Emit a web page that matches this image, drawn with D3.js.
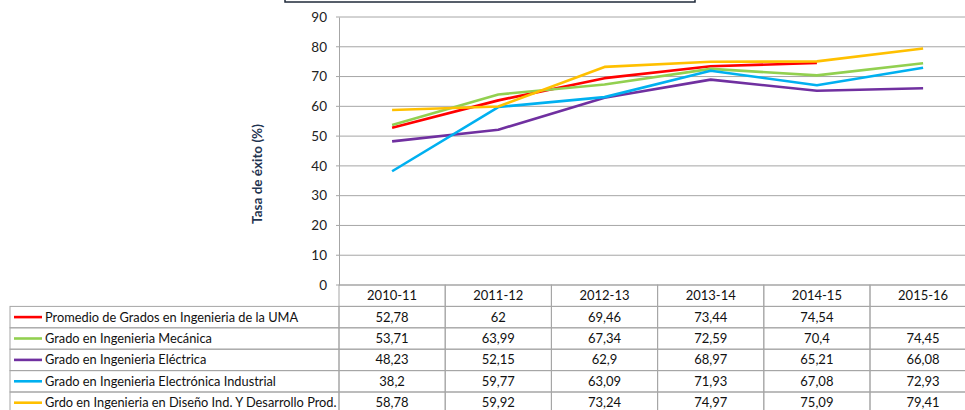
<!DOCTYPE html>
<html>
<head>
<meta charset="utf-8">
<script src="https://cdn.jsdelivr.net/npm/d3@7"></script>
<style>
  body { margin: 0; background: #fff; }
  svg { display: block; font-family: Lato, "Open Sans", sans-serif; }
</style>
</head>
<body>
<div id="chart"></div>
<script>
// data
const categories = ["2010-11", "2011-12", "2012-13", "2013-14", "2014-15", "2015-16"];
const seriesNames = [
    "Promedio de Grados en Ingenieria de la UMA",
    "Grado en Ingenieria Mecánica",
    "Grado en Ingenieria Eléctrica",
    "Grado en Ingenieria Electrónica Industrial",
    "Grdo en Ingenieria en Diseño Ind. Y Desarrollo Prod."
];
const promedio = [52.78, 62, 69.46, 73.44, 74.54, null];
const mecanica = [53.71, 63.99, 67.34, 72.59, 70.4, 74.45];
const electrica = [48.23, 52.15, 62.9, 68.97, 65.21, 66.08];
const electronica = [38.2, 59.77, 63.09, 71.93, 67.08, 72.93];
const diseno = [58.78, 59.92, 73.24, 74.97, 75.09, 79.41];
const seriesColors = ["#ff0000", "#92d050", "#7030a0", "#00b0f0", "#ffc000"];
const yTicks = [0, 10, 20, 30, 40, 50, 60, 70, 80, 90];

const series = [promedio, mecanica, electrica, electronica, diseno].map((vals, i) => ({
    name: seriesNames[i],
    color: seriesColors[i],
    values: vals
}));

const width = 965, height = 410;
const plotLeft = 339, plotTop = 17, plotBottom = 285;
const colW = 106.2, rowH = 21.4;
const gridColor = "#a6a6a6";

const svg = d3.select("#chart").append("svg")
    .attr("width", width)
    .attr("height", height);

const x = d3.scaleBand()
    .domain(categories)
    .range([plotLeft, plotLeft + colW * categories.length]);

const y = d3.scaleLinear()
    .domain([0, 90])
    .range([plotBottom, plotTop]);

// title box (cut off at the top)
svg.append("rect")
    .attr("x", 285).attr("y", -12)
    .attr("width", 410).attr("height", 14)
    .attr("fill", "#fff")
    .attr("stroke", "#1f2a3a")
    .attr("stroke-width", 1.5);

// gridlines
svg.append("g")
    .selectAll("line")
    .data(yTicks)
    .join("line")
    .attr("x1", plotLeft - 3)
    .attr("x2", width)
    .attr("y1", d => y(d))
    .attr("y2", d => y(d))
    .attr("stroke", gridColor)
    .attr("stroke-width", 1);

// y axis
const yAxis = svg.append("g")
    .attr("transform", `translate(${plotLeft},0)`)
    .call(d3.axisLeft(y).tickValues(yTicks).tickSize(0).tickPadding(12));
yAxis.select(".domain").attr("stroke", gridColor);
yAxis.selectAll("text")
    .attr("font-family", "Lato, sans-serif")
    .attr("font-size", 13.5)
    .attr("fill", "#222");

svg.append("text")
    .attr("transform", "translate(262,174) rotate(-90)")
    .attr("text-anchor", "middle")
    .attr("font-weight", "bold")
    .attr("font-size", 13.5)
    .attr("fill", "#1f3450")
    .text("Tasa de éxito (%)");

// lines
const line = d3.line()
    .defined(d => d.v != null)
    .x(d => x(d.c) + x.bandwidth() / 2)
    .y(d => y(d.v));

svg.append("g")
    .selectAll("path")
    .data(series)
    .join("path")
    .attr("d", s => line(s.values.map((v, i) => ({ c: categories[i], v: v }))))
    .attr("fill", "none")
    .attr("stroke", s => s.color)
    .attr("stroke-width", 2.6)
    .attr("stroke-linejoin", "round");

// data table
const rows = d3.scaleBand()
    .domain(["header"].concat(seriesNames))
    .range([plotBottom, plotBottom + rowH * 6]);

const table = svg.append("g")
    .attr("fill", "none")
    .attr("stroke", gridColor)
    .attr("stroke-width", 1);

// header row cells
table.selectAll(".hcell")
    .data(categories)
    .join("rect")
    .attr("x", d => x(d))
    .attr("y", rows("header"))
    .attr("width", x.bandwidth())
    .attr("height", rows.bandwidth());

// body cells
series.forEach(s => {
    table.append("rect")
        .attr("x", 10)
        .attr("y", rows(s.name))
        .attr("width", plotLeft - 10)
        .attr("height", rows.bandwidth());
    categories.forEach(c => {
        table.append("rect")
            .attr("x", x(c))
            .attr("y", rows(s.name))
            .attr("width", x.bandwidth())
            .attr("height", rows.bandwidth());
    });
});

const textG = svg.append("g")
    .attr("font-size", 13)
    .attr("fill", "#111");

textG.selectAll(".hlabel")
    .data(categories)
    .join("text")
    .attr("x", d => x(d) + x.bandwidth() / 2)
    .attr("y", rows("header") + rows.bandwidth() / 2)
    .attr("dy", "0.35em")
    .attr("text-anchor", "middle")
    .text(d => d);

const fmt = v => v == null ? "" : String(v).replace(".", ",");

series.forEach(s => {
    const cy = rows(s.name) + rows.bandwidth() / 2;
    svg.append("line")
        .attr("x1", 14).attr("x2", 42)
        .attr("y1", cy).attr("y2", cy)
        .attr("stroke", s.color)
        .attr("stroke-width", 2.6);
    textG.append("text")
        .attr("x", 45)
        .attr("y", cy)
        .attr("dy", "0.35em")
        .attr("font-size", 12.8)
        .text(s.name);
    textG.selectAll(null)
        .data(s.values)
        .join("text")
        .attr("x", (v, i) => x(categories[i]) + x.bandwidth() / 2)
        .attr("y", cy)
        .attr("dy", "0.35em")
        .attr("text-anchor", "middle")
        .text(fmt);
});
</script>
</body>
</html>
